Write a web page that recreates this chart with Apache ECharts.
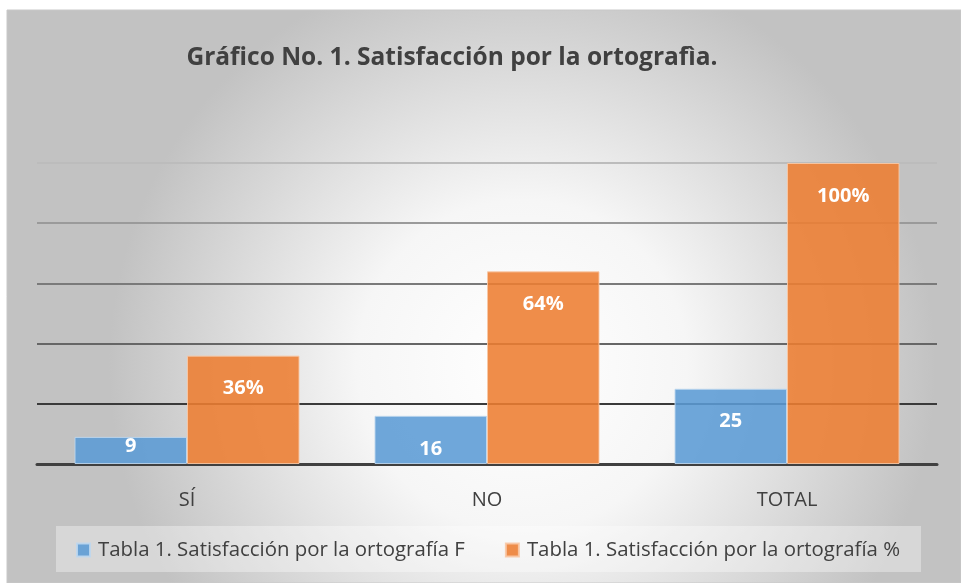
<!DOCTYPE html>
<html><head><meta charset="utf-8">
<script src="https://cdn.jsdelivr.net/npm/echarts@6/dist/echarts.min.js"></script>
<style>html,body{margin:0;padding:0;background:#fff;}#c{width:961px;height:583px;}</style>
</head><body><div id="c"></div>
<script>
const categories = ['SÍ', 'NO', 'TOTAL'];
const seriesNames = ['Tabla 1. Satisfacción por la ortografía F', 'Tabla 1. Satisfacción por la ortografía %'];
const freqValues = [9, 16, 25];
const pctValues = [36, 64, 100];
const titleText = 'Gráfico No. 1. Satisfacción por la ortografìa.';

const chart = echarts.init(document.getElementById('c'));
const font = '"Open Sans", "Noto Sans", sans-serif';
function mk(vals) {
  return vals.map(v => ({
    value: v,
    label: v < 12 ? { position: 'inside', offset: [0, -4] } : {}
  }));
}
const labelBase = (suffix) => ({
  show: true, position: 'insideTop', distance: 23,
  color: '#fff', fontWeight: 'bold', fontSize: 20, fontFamily: font,
  formatter: p => p.value + suffix
});
chart.setOption({
  animation: false,
  graphic: [{
    type: 'rect', z: -100, silent: true,
    shape: { x: 7, y: 10, width: 954, height: 573 },
    style: {
      fill: new echarts.graphic.RadialGradient(0.54, 0.62, 0.72, [
        { offset: 0, color: '#ffffff' },
        { offset: 0.4, color: '#f6f6f6' },
        { offset: 1, color: '#c2c2c2' }
      ]),
      stroke: '#c8c8c8', lineWidth: 1
    }
  }, {
    type: 'rect', z: -50, silent: true,
    shape: { x: 56, y: 526, width: 865, height: 46 },
    style: { fill: 'rgba(255,255,255,0.35)' }
  }],
  title: {
    text: titleText, left: 447, top: 41, textAlign: 'center',
    textStyle: { fontSize: 24.5, fontWeight: 'bold', color: '#404040', fontFamily: font }
  },
  legend: {
    bottom: 18, left: 71, itemWidth: 13, itemHeight: 13, itemGap: 40,
    icon: 'rect',
    textStyle: { fontSize: 20.4, color: '#404040', fontFamily: font, padding: [0, 0, 0, 3] },
    data: seriesNames
  },
  grid: { left: 37, right: 24, top: 163, bottom: 119 },
  xAxis: {
    type: 'category', data: categories,
    axisLine: { lineStyle: { color: '#404040', width: 3 } },
    axisTick: { show: false },
    axisLabel: { fontSize: 20, color: '#404040', fontFamily: font, margin: 26 }
  },
  yAxis: {
    type: 'value', min: 0, max: 100, interval: 20,
    axisLabel: { show: false }, axisLine: { show: false }, axisTick: { show: false },
    splitLine: { lineStyle: { width: 2, color: ['#404040', '#3a3a3a', '#666666', '#7a7a7a', '#9a9a9a', '#bcbcbc'] } }
  },
  series: [{
    name: seriesNames[0], type: 'bar', data: mk(freqValues), barGap: '0%', barCategoryGap: '25%',
    itemStyle: { color: 'rgba(91,155,213,0.88)', borderColor: 'rgba(190,215,238,0.9)', borderWidth: 1 },
    label: labelBase('')
  }, {
    name: seriesNames[1], type: 'bar', data: mk(pctValues),
    itemStyle: { color: 'rgba(237,125,49,0.88)', borderColor: 'rgba(248,200,165,0.9)', borderWidth: 1 },
    label: labelBase('%')
  }]
});
</script></body></html>
